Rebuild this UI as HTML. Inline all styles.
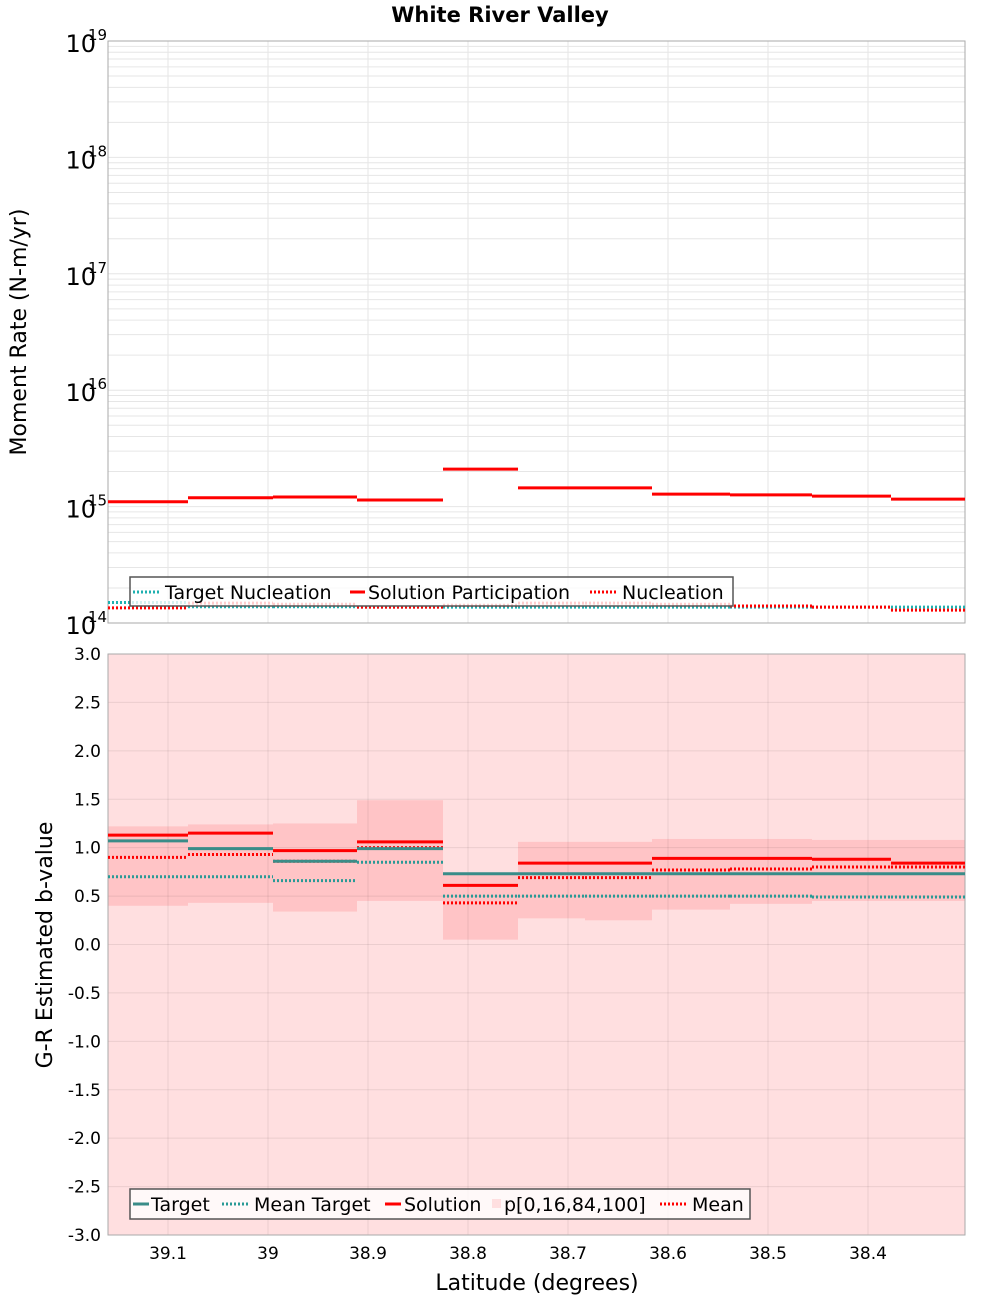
<!DOCTYPE html>
<html><head><meta charset="utf-8"><style>
body{margin:0;background:#fff;}
svg{display:block;font-family:"DejaVu Sans","Liberation Sans",sans-serif;}
</style></head><body>
<svg id="c" width="1000" height="1300" xmlns="http://www.w3.org/2000/svg"></svg>
<script>
const binEdges=[39.16,39.08,38.995,38.911,38.825,38.75,38.683,38.616,38.538,38.456,38.377,38.303];
const latTicks=[39.1,39.0,38.9,38.8,38.7,38.6,38.5,38.4];
const latTickLabels=["39.1","39","38.9","38.8","38.7","38.6","38.5","38.4"];
const solPart=[1.1e15,1.19e15,1.21e15,1.14e15,2.1e15,1.45e15,1.45e15,1.28e15,1.26e15,1.23e15,1.16e15];
const nucl=[1.35e14,1.48e14,1.45e14,1.37e14,1.42e14,1.48e14,1.48e14,1.45e14,1.4e14,1.37e14,1.29e14];
const targetNucl=[1.5e14,1.38e14,1.38e14,1.37e14,1.37e14,1.37e14,1.37e14,1.37e14,1.37e14,1.37e14,1.37e14];
const bTarget=[1.07,0.99,0.86,0.99,0.73,0.73,0.73,0.73,0.73,0.73,0.73];
const bMeanTarget=[0.70,0.70,0.66,0.85,0.50,0.50,0.50,0.50,0.50,0.49,0.49];
const bSolution=[1.13,1.15,0.97,1.06,0.61,0.84,0.84,0.89,0.89,0.88,0.84];
const bMean=[0.90,0.93,0.86,1.00,0.43,0.69,0.69,0.77,0.78,0.80,0.80];
const bP16=[0.40,0.43,0.34,0.45,0.05,0.27,0.25,0.36,0.42,0.45,0.45];
const bP84=[1.22,1.24,1.25,1.49,0.74,1.06,1.06,1.09,1.09,1.08,1.08];
const bP0=[-3,-3,-3,-3,-3,-3,-3,-3,-3,-3,-3];
const bP100=[3,3,3,3,3,3,3,3,3,3,3];

const svgEl=document.getElementById('c');
const NS='http://www.w3.org/2000/svg';
function mk(tag,attrs,parent,text){const e=document.createElementNS(NS,tag);for(const k in attrs)e.setAttribute(k,attrs[k]);if(text!==undefined)e.textContent=text;(parent||svgEl).appendChild(e);return e;}
const X0=108,X1=965;
const xs=lat=>168+(39.1-lat)*1000;
const T0=41,T1=623;
const ylog=v=>T1-(Math.log10(v)-14)*(T1-T0)/5;
const B0=654,B1=1235;
const yb=v=>B1-(v+3)*(B1-B0)/6;

let titleEl=mk('text',{x:500,y:22,'text-anchor':'middle','font-size':21,'font-weight':'bold'},svgEl,'White River Valley');



// ---------- top panel ----------
let topG=mk('g',{});


mk('rect',{x:X0,y:T0,width:X1-X0,height:T1-T0,fill:'#fff'},topG);
for(let d=14;d<19;d++)for(let m=1;m<10;m++){const y=ylog(m*Math.pow(10,d));mk('line',{x1:X0,x2:X1,y1:y,y2:y,stroke:'#e6e6e6','stroke-width':1},topG);}
latTicks.forEach(l=>mk('line',{x1:xs(l),x2:xs(l),y1:T0,y2:T1,stroke:'#e6e6e6'},topG));
mk('rect',{x:X0,y:T0,width:X1-X0,height:T1-T0,fill:'none',stroke:'#aaa','stroke-width':1},topG);
for(let d=14;d<=19;d++){const y=ylog(Math.pow(10,d));
 let g=mk('text',{x:96,y:y+11,'text-anchor':'end','font-size':24},topG,'10');
 
 
 mk('text',{x:88,y:y-1,'font-size':15},topG,String(d));}
let yt=mk('text',{x:26,y:332,'font-size':22,'text-anchor':'middle',transform:'rotate(-90 26 332)'},topG,'Moment Rate (N-m/yr)');


function steps(parent,vals,yf,color,w,dash,name){vals.forEach((v,i)=>{const l=mk('line',{x1:xs(binEdges[i]),x2:xs(binEdges[i+1]),y1:yf(v),y2:yf(v),stroke:color,'stroke-width':w},parent);if(dash)l.setAttribute('stroke-dasharray',dash);

});}
steps(topG,targetNucl,ylog,'#1fb0b0',3,'2 2','target-nucleation-step');
steps(topG,nucl,ylog,'#ff0000',3,'2 2','nucleation-step');
steps(topG,solPart,ylog,'#ff0000',3,null,'solution-participation-step');
let lg=mk('g',{});


mk('rect',{x:130,y:577,width:603,height:29,fill:'rgba(255,255,255,0.8)',stroke:'#555','stroke-width':1.5},lg);
mk('line',{x1:133,x2:161,y1:592,y2:592,stroke:'#1fb0b0','stroke-width':3,'stroke-dasharray':'2 2'},lg);
mk('text',{x:165,y:599,'font-size':19},lg,'Target Nucleation');
mk('line',{x1:350,x2:365,y1:592,y2:592,stroke:'#ff0000','stroke-width':3},lg);
mk('text',{x:368,y:599,'font-size':19},lg,'Solution Participation');
mk('line',{x1:590,x2:618,y1:592,y2:592,stroke:'#ff0000','stroke-width':3,'stroke-dasharray':'2 2'},lg);
mk('text',{x:622,y:599,'font-size':19},lg,'Nucleation');

// ---------- bottom panel ----------
let bot=mk('g',{});


mk('rect',{x:X0,y:B0,width:X1-X0,height:B1-B0,fill:'#fff'},bot);
bP0.forEach((v,i)=>{const r=mk('rect',{x:xs(binEdges[i]),width:xs(binEdges[i+1])-xs(binEdges[i]),y:yb(bP100[i]),height:yb(v)-yb(bP100[i]),fill:'#ffdfe0'},bot);

});
bP16.forEach((v,i)=>{const r=mk('rect',{x:xs(binEdges[i]),width:xs(binEdges[i+1])-xs(binEdges[i]),y:yb(bP84[i]),height:yb(v)-yb(bP84[i]),fill:'#ffc4c6'},bot);

});
for(let v=-3;v<=3.001;v+=0.5){const y=yb(v);mk('line',{x1:X0,x2:X1,y1:y,y2:y,stroke:'rgba(0,0,0,0.08)'},bot);
 const tl=mk('text',{x:101,y:y+6,'text-anchor':'end','font-size':17},bot,v.toFixed(1));
 
 }
latTicks.forEach((l,i)=>{mk('line',{x1:xs(l),x2:xs(l),y1:B0,y2:B1,stroke:'rgba(0,0,0,0.08)'},bot);
 const tl=mk('text',{x:xs(l),y:1259,'text-anchor':'middle','font-size':17},bot,latTickLabels[i]);
 
 });
mk('rect',{x:X0,y:B0,width:X1-X0,height:B1-B0,fill:'none',stroke:'#aaa'},bot);
let yt2=mk('text',{x:52,y:945,'font-size':22,'text-anchor':'middle',transform:'rotate(-90 52 945)'},bot,'G-R Estimated b-value');


let xt=mk('text',{x:537,y:1290,'font-size':22,'text-anchor':'middle'},bot,'Latitude (degrees)');


steps(bot,bMeanTarget,yb,'#2a9a96',3,'2 2','mean-target-step');
steps(bot,bMean,yb,'#ff0000',3,'2 2','mean-step');
steps(bot,bSolution,yb,'#ff0000',3,null,'solution-step');
steps(bot,bTarget,yb,'#3a8c88',3,null,'target-step');
let lg2=mk('g',{});


mk('rect',{x:130,y:1189,width:620,height:30,fill:'rgba(255,255,255,0.8)',stroke:'#555','stroke-width':1.5},lg2);
mk('line',{x1:133,x2:149,y1:1204,y2:1204,stroke:'#3a8c88','stroke-width':3},lg2);
mk('text',{x:151,y:1211,'font-size':19},lg2,'Target');
mk('line',{x1:222,x2:250,y1:1204,y2:1204,stroke:'#2a9a96','stroke-width':3,'stroke-dasharray':'2 2'},lg2);
mk('text',{x:254,y:1211,'font-size':19},lg2,'Mean Target');
mk('line',{x1:385,x2:401,y1:1204,y2:1204,stroke:'#ff0000','stroke-width':3},lg2);
mk('text',{x:404,y:1211,'font-size':19},lg2,'Solution');
mk('rect',{x:492,y:1199,width:9,height:9,fill:'#ffdfe0'},lg2);
mk('text',{x:504,y:1211,'font-size':19},lg2,'p[0,16,84,100]');
mk('line',{x1:660,x2:688,y1:1204,y2:1204,stroke:'#ff0000','stroke-width':3,'stroke-dasharray':'2 2'},lg2);
mk('text',{x:692,y:1211,'font-size':19},lg2,'Mean');
</script>
</body></html>
